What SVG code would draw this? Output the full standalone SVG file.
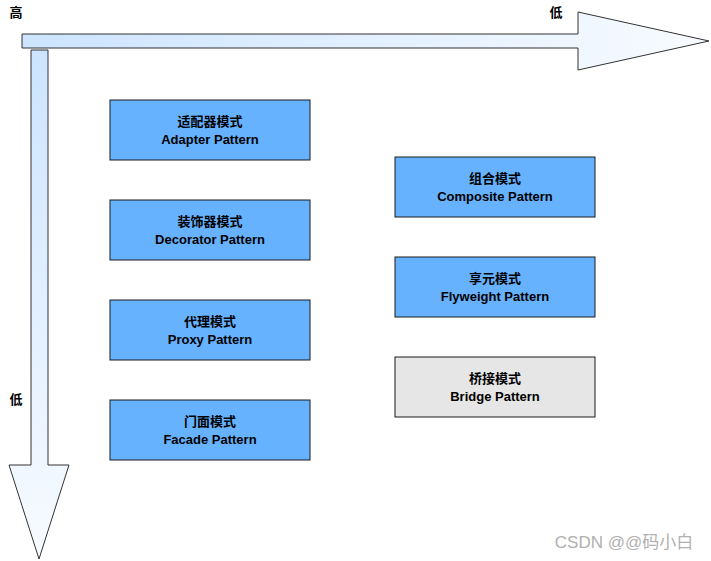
<svg xmlns="http://www.w3.org/2000/svg" width="711" height="561" viewBox="0 0 711 561">
<style>
.b rect{stroke:#1a1a1a;stroke-width:1}
.p rect{fill:#66b2ff}.g rect{fill:#e6e6e6}
text{font-family:"Liberation Sans","Noto Sans CJK SC",sans-serif;font-size:13px;font-weight:bold;fill:#000;text-anchor:middle}
.ax{stroke:#333;stroke-width:1}
</style>
<defs>
<linearGradient id="gh" x1="0" y1="0" x2="1" y2="0"><stop offset="0" stop-color="#cce4ff"/><stop offset="1" stop-color="#f8fbff"/></linearGradient>
<linearGradient id="gv" x1="0" y1="0" x2="0" y2="1"><stop offset="0" stop-color="#cce4ff"/><stop offset="1" stop-color="#f8fbff"/></linearGradient>
</defs>
<g id="connectors">
<path class="ax" fill="url(#gv)" d="M31,50 H48 V465 H69 L39,559 L9,465 H31 Z"/>
<path class="ax" fill="url(#gh)" d="M22,34 H578 V12 L709,41 L578,70 V48 H22 Z"/>
</g>
<text x="16" y="17">高</text>
<text x="556" y="17">低</text>
<text x="16" y="404">低</text>
<g id="adapter" class="b p"><rect x="110" y="100" width="200" height="60"/><text x="210" y="126">适配器模式</text><text x="210" y="144">Adapter Pattern</text></g>
<g id="decorator" class="b p"><rect x="110" y="200" width="200" height="60"/><text x="210" y="226">装饰器模式</text><text x="210" y="244">Decorator Pattern</text></g>
<g id="proxy" class="b p"><rect x="110" y="300" width="200" height="60"/><text x="210" y="326">代理模式</text><text x="210" y="344">Proxy Pattern</text></g>
<g id="facade" class="b p"><rect x="110" y="400" width="200" height="60"/><text x="210" y="426">门面模式</text><text x="210" y="444">Facade Pattern</text></g>
<g id="composite" class="b p"><rect x="395" y="157" width="200" height="60"/><text x="495" y="183">组合模式</text><text x="495" y="201">Composite Pattern</text></g>
<g id="flyweight" class="b p"><rect x="395" y="257" width="200" height="60"/><text x="495" y="283">享元模式</text><text x="495" y="301">Flyweight Pattern</text></g>
<g id="bridge" class="b g"><rect x="395" y="357" width="200" height="60"/><text x="495" y="383">桥接模式</text><text x="495" y="401">Bridge Pattern</text></g>
<text x="624" y="548" style="font-size:17px;font-weight:normal;fill:#b0b0b0">CSDN @@码小白</text>
</svg>
